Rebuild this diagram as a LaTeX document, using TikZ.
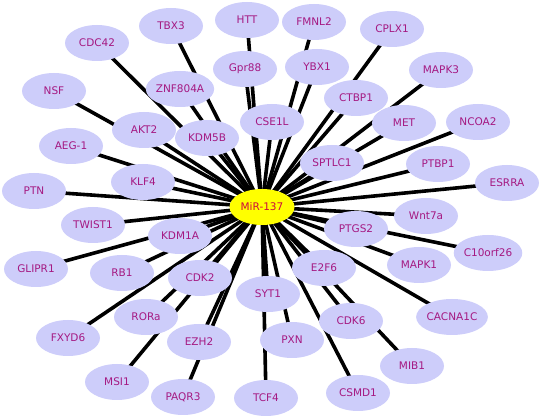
\documentclass[tikz,border=0pt]{standalone}
\usepackage{fontspec}
\setmainfont{DejaVu Sans}
\usetikzlibrary{backgrounds,shapes.geometric}
\definecolor{lav}{RGB}{205,205,250}
\definecolor{lbl}{RGB}{165,25,130}
\definecolor{hubtxt}{RGB}{205,10,60}
\definecolor{hubfill}{RGB}{255,255,0}
\tikzset{
  gene/.style={ellipse, fill=lav, minimum width=64pt, minimum height=36pt, inner sep=0pt, text=lbl, font=\fontsize{10.5}{12}\selectfont},
  hub/.style={ellipse, fill=hubfill, minimum width=65pt, minimum height=36pt, inner sep=0pt, text=hubtxt, font=\fontsize{10.5}{12}\selectfont},
  link/.style={line width=3.6pt, black}
}
\begin{document}
\begin{tikzpicture}[x=1pt,y=-1pt]
\useasboundingbox (0,0) rectangle (542,419);
\node[hub] (mir) at (262,207) {MiR-137};
\foreach \n/\x/\y/\t in {
 cdc/97/43/CDC42, tbx/171/26/TBX3, htt/247/20/HTT, gpr/245/69/Gpr88,
 fmnl/314/22/FMNL2, cplx/392/29/CPLX1, ybx/317/67/YBX1, mapkthree/441/70/MAPK3,
 ctbp/356/98/CTBP1, cse/272/122/CSE1L, met/404/123/MET, ncoa/478/122/NCOA2,
 nsf/54/91/NSF, znf/180/89/ZNF804A, akt/144/130/AKT2, kdmfive/207/138/KDM5B,
 aeg/71/146/AEG-1, klf/143/182/KLF4, ptn/34/191/PTN, sptlc/332/163/SPTLC1,
 ptbp/438/164/PTBP1, esrra/507/183/ESRRA, twist/93/225/TWIST1, kdmone/180/236/KDM1A,
 wnt/426/216/Wnt7a, ptgs/356/229/PTGS2, corf/488/253/C10orf26, etwo/324/268/E2F6,
 mapkone/419/265/MAPK1, glipr/36/269/GLIPR1, rb/122/273/RB1, cdktwo/200/278/CDK2,
 syt/268/294/SYT1, rora/146/317/RORa, cdksix/351/321/CDK6, cacna/452/317/CACNA1C,
 fxyd/68/338/FXYD6, ezh/199/342/EZH2, pxn/292/340/PXN, mib/412/366/MIB1,
 msi/117/382/MSI1, paqr/183/397/PAQR3, tcf/266/398/TCF4, csmd/358/393/CSMD1}{
  \node[gene] (\n) at (\x,\y) {\t};
  \begin{pgfonlayer}{background}
    \draw[link] (mir.center) -- (\n.center);
  \end{pgfonlayer}
}
\end{tikzpicture}
\end{document}
